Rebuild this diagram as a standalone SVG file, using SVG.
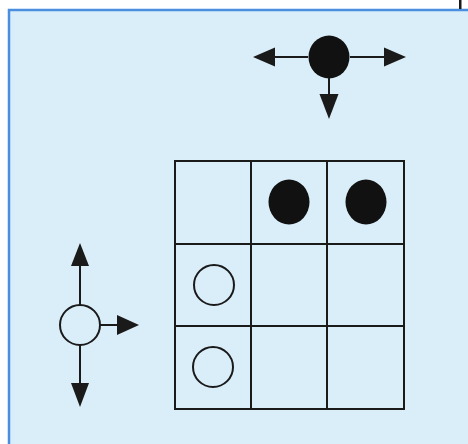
<svg xmlns="http://www.w3.org/2000/svg" width="468" height="444" viewBox="0 0 468 444">
<style>
.ln{stroke:#1a1a1a;stroke-width:2;fill:none}
.ah{fill:#1a1a1a}
.open{fill:none;stroke:#1a1a1a;stroke-width:2}
.fill{fill:#111}
</style>
<rect x="0" y="0" width="468" height="444" fill="#ffffff"/>
<rect x="9" y="10" width="470" height="445" fill="#d9eef9" stroke="#4a8fdf" stroke-width="2.5"/>
<rect x="459" y="0" width="2.5" height="9" fill="#1a1a1a"/>
<g id="grid">
<rect class="ln" x="175" y="161" width="229" height="248"/>
<line class="ln" x1="251" y1="161" x2="251" y2="409"/>
<line class="ln" x1="327" y1="161" x2="327" y2="409"/>
<line class="ln" x1="175" y1="244" x2="404" y2="244"/>
<line class="ln" x1="175" y1="326" x2="404" y2="326"/>
</g>
<g id="piece-b1"><ellipse class="fill" cx="289" cy="202" rx="20.5" ry="22.5"/></g>
<g id="piece-b2"><ellipse class="fill" cx="366" cy="202" rx="20.5" ry="22.5"/></g>
<g id="piece-w1"><circle class="open" cx="214" cy="285" r="20"/></g>
<g id="piece-w2"><circle class="open" cx="213" cy="367" r="20"/></g>
<g id="node-black"><ellipse class="fill" cx="329" cy="57" rx="20.5" ry="21.5"/></g>
<g id="node-white"><circle class="open" cx="80" cy="325" r="20"/></g>
<g id="connectors">
<line class="ln" x1="272" y1="57" x2="308" y2="57"/>
<polygon class="ah" points="253,57 275,47.5 275,66.5"/>
<line class="ln" x1="350" y1="57" x2="386" y2="57"/>
<polygon class="ah" points="406,57 384,47.5 384,66.5"/>
<line class="ln" x1="329" y1="78" x2="329" y2="96"/>
<polygon class="ah" points="329,119 319.5,94 338.5,94"/>
<line class="ln" x1="80" y1="264" x2="80" y2="305"/>
<polygon class="ah" points="80,243 71,266 89,266"/>
<line class="ln" x1="80" y1="345" x2="80" y2="385"/>
<polygon class="ah" points="80,407 71,383 89,383"/>
<line class="ln" x1="100" y1="325" x2="119" y2="325"/>
<polygon class="ah" points="139,325 117,315 117,335"/>
</g>
</svg>
